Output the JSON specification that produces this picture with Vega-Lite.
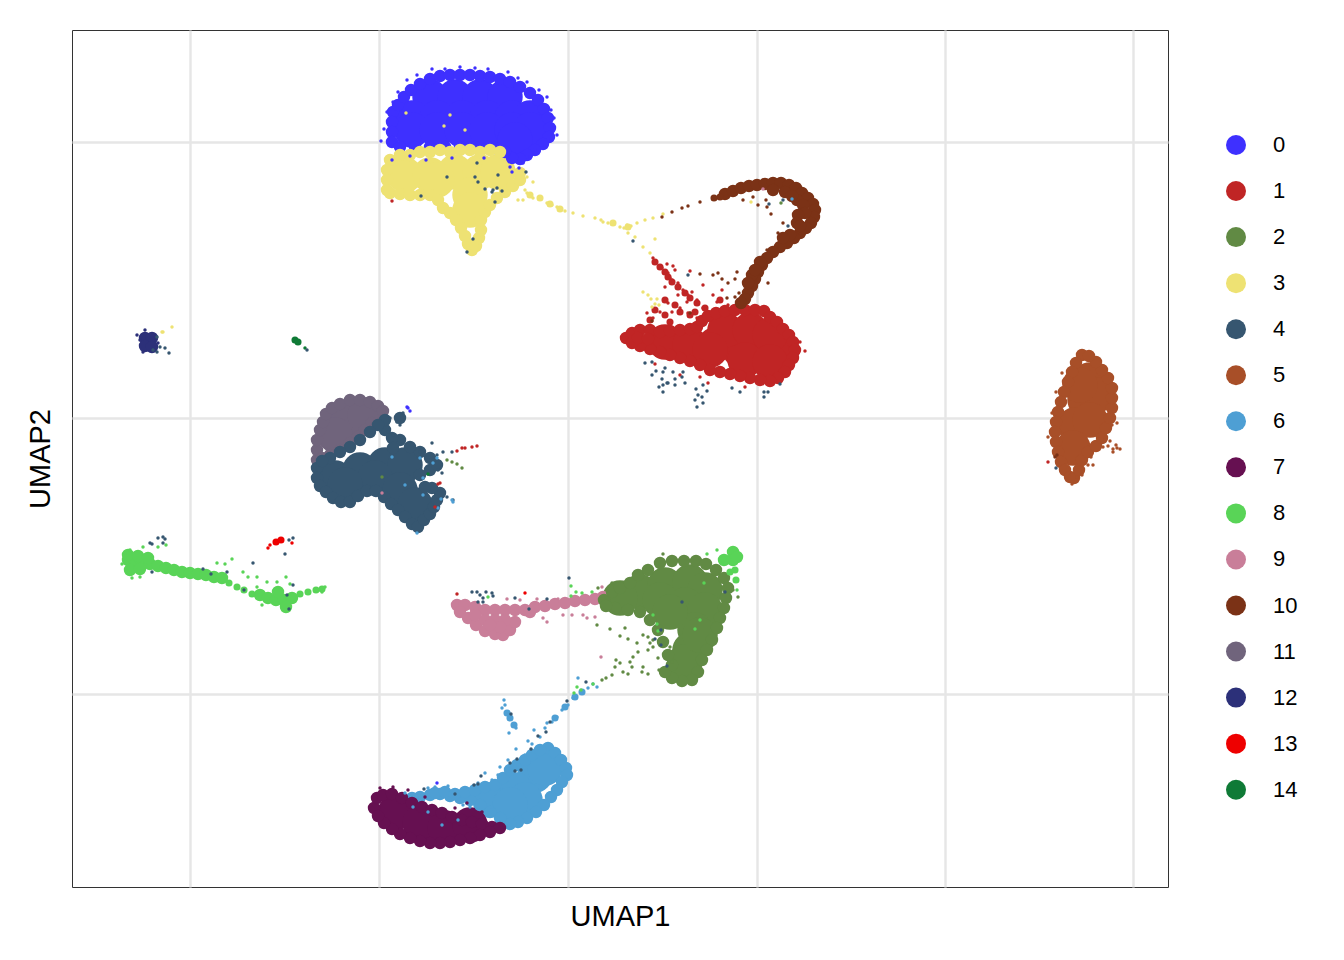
{"$schema":"https://vega.github.io/schema/vega-lite/v6.json","width":1096,"height":857,"autosize":{"type":"none"},"padding":{"left":72,"top":30,"right":176,"bottom":73},"background":"white","config":{"view":{"stroke":"#333333","strokeWidth":1},"font":"Liberation Sans"},
"datasets":{
"big":[
{"c":"0","x":-138,"y":321},{"c":"0","x":-113,"y":321},{"c":"0","x":-88,"y":321},{"c":"0","x":-63,"y":321},{"c":"0","x":-156,"y":300},{"c":"0","x":-131,"y":300},{"c":"0","x":-106,"y":300},{"c":"0","x":-81,"y":300},{"c":"0","x":-56,"y":300},{"c":"0","x":-38,"y":300},{"c":"0","x":-156,"y":288},{"c":"0","x":-131,"y":288},{"c":"0","x":-106,"y":288},{"c":"0","x":-81,"y":288},{"c":"0","x":-56,"y":288},{"c":"0","x":-38,"y":288},{"c":"0","x":-53,"y":278},
{"c":"3","x":-163,"y":243},{"c":"3","x":-138,"y":243},{"c":"3","x":-113,"y":246},{"c":"3","x":-88,"y":246},{"c":"3","x":-70,"y":246},{"c":"3","x":-98,"y":223},{"c":"3","x":-131,"y":238},{"c":"3","x":-98,"y":208},
{"c":"1","x":97,"y":76},{"c":"1","x":122,"y":73},{"c":"1","x":147,"y":73},{"c":"1","x":172,"y":68},{"c":"1","x":197,"y":68},{"c":"1","x":214,"y":68},{"c":"1","x":157,"y":88},{"c":"1","x":182,"y":88},{"c":"1","x":202,"y":83},{"c":"1","x":177,"y":58},{"c":"1","x":202,"y":56},{"c":"1","x":142,"y":68},
{"c":"11","x":-223,"y":-2},{"c":"11","x":-233,"y":-17},{"c":"11","x":-203,"y":3},
{"c":"4","x":-233,"y":-60},{"c":"4","x":-208,"y":-52},{"c":"4","x":-183,"y":-47},{"c":"4","x":-163,"y":-47},{"c":"4","x":-193,"y":-60},{"c":"4","x":-223,"y":-67},{"c":"4","x":-168,"y":-72},{"c":"4","x":-153,"y":-87},
{"c":"2","x":72,"y":-174},{"c":"2","x":97,"y":-167},{"c":"2","x":122,"y":-164},{"c":"2","x":137,"y":-172},{"c":"2","x":92,"y":-182},{"c":"2","x":117,"y":-187},{"c":"2","x":137,"y":-192},{"c":"2","x":127,"y":-212},{"c":"2","x":122,"y":-232},{"c":"2","x":117,"y":-244},{"c":"2","x":132,"y":-217},{"c":"2","x":102,"y":-194},{"c":"2","x":52,"y":-180},
{"c":"6","x":-33,"y":-357},{"c":"6","x":-53,"y":-372},{"c":"6","x":-43,"y":-382},{"c":"6","x":-23,"y":-350},{"c":"6","x":-78,"y":-382},{"c":"6","x":-58,"y":-387},
{"c":"7","x":-173,"y":-395},{"c":"7","x":-148,"y":-405},{"c":"7","x":-123,"y":-410},{"c":"7","x":-98,"y":-407},
{"c":"5","x":522,"y":38},{"c":"5","x":517,"y":18},{"c":"5","x":529,"y":23},{"c":"5","x":507,"y":-7},{"c":"5","x":522,"y":-2},{"c":"5","x":505,"y":-30},{"c":"5","x":512,"y":33}],
"mid":[
{"c":"0","x":-175,"y":306},{"c":"0","x":-170,"y":313},{"c":"0","x":-164,"y":321},{"c":"0","x":-157,"y":328},{"c":"0","x":-148,"y":334},{"c":"0","x":-138,"y":339},{"c":"0","x":-128,"y":342},{"c":"0","x":-118,"y":343},{"c":"0","x":-108,"y":343},{"c":"0","x":-98,"y":343},{"c":"0","x":-88,"y":342},{"c":"0","x":-78,"y":341},{"c":"0","x":-68,"y":339},{"c":"0","x":-58,"y":336},{"c":"0","x":-48,"y":331},{"c":"0","x":-38,"y":325},{"c":"0","x":-30,"y":318},{"c":"0","x":-24,"y":309},{"c":"0","x":-20,"y":300},{"c":"0","x":-18,"y":290},{"c":"0","x":-19,"y":281},{"c":"0","x":-25,"y":274},{"c":"0","x":-33,"y":268},{"c":"0","x":-41,"y":263},{"c":"0","x":-48,"y":259},{"c":"0","x":-56,"y":260},{"c":"0","x":-63,"y":266},{"c":"0","x":-73,"y":270},{"c":"0","x":-176,"y":296},{"c":"0","x":-176,"y":286},{"c":"0","x":-176,"y":276},{"c":"0","x":-168,"y":271},{"c":"0","x":-153,"y":271},{"c":"0","x":-138,"y":271},{"c":"0","x":-123,"y":271},{"c":"0","x":-108,"y":271},{"c":"0","x":-93,"y":271},{"c":"0","x":-80,"y":271},
{"c":"3","x":-178,"y":258},{"c":"3","x":-181,"y":248},{"c":"3","x":-181,"y":238},{"c":"3","x":-181,"y":228},{"c":"3","x":-178,"y":225},{"c":"3","x":-168,"y":224},{"c":"3","x":-158,"y":223},{"c":"3","x":-148,"y":223},{"c":"3","x":-138,"y":223},{"c":"3","x":-130,"y":218},{"c":"3","x":-125,"y":210},{"c":"3","x":-118,"y":205},{"c":"3","x":-112,"y":198},{"c":"3","x":-107,"y":190},{"c":"3","x":-103,"y":182},{"c":"3","x":-100,"y":174},{"c":"3","x":-96,"y":168},{"c":"3","x":-92,"y":172},{"c":"3","x":-89,"y":180},{"c":"3","x":-87,"y":188},{"c":"3","x":-87,"y":198},{"c":"3","x":-83,"y":206},{"c":"3","x":-78,"y":213},{"c":"3","x":-71,"y":220},{"c":"3","x":-63,"y":226},{"c":"3","x":-55,"y":232},{"c":"3","x":-48,"y":238},{"c":"3","x":-48,"y":245},{"c":"3","x":-168,"y":263},{"c":"3","x":-158,"y":263},{"c":"3","x":-148,"y":266},{"c":"3","x":-138,"y":266},{"c":"3","x":-128,"y":268},{"c":"3","x":-118,"y":266},{"c":"3","x":-108,"y":268},{"c":"3","x":-98,"y":268},{"c":"3","x":-88,"y":266},{"c":"3","x":-78,"y":268},{"c":"3","x":-68,"y":266},
{"c":"1","x":58,"y":80},{"c":"1","x":64,"y":85},{"c":"1","x":72,"y":88},{"c":"1","x":82,"y":88},{"c":"1","x":92,"y":86},{"c":"1","x":102,"y":87},{"c":"1","x":112,"y":88},{"c":"1","x":122,"y":89},{"c":"1","x":129,"y":91},{"c":"1","x":134,"y":97},{"c":"1","x":140,"y":102},{"c":"1","x":148,"y":105},{"c":"1","x":157,"y":107},{"c":"1","x":167,"y":108},{"c":"1","x":177,"y":108},{"c":"1","x":187,"y":108},{"c":"1","x":196,"y":107},{"c":"1","x":202,"y":101},{"c":"1","x":209,"y":96},{"c":"1","x":215,"y":89},{"c":"1","x":221,"y":83},{"c":"1","x":225,"y":76},{"c":"1","x":227,"y":68},{"c":"1","x":225,"y":60},{"c":"1","x":221,"y":53},{"c":"1","x":217,"y":46},{"c":"1","x":210,"y":40},{"c":"1","x":202,"y":37},{"c":"1","x":192,"y":38},{"c":"1","x":182,"y":40},{"c":"1","x":172,"y":42},{"c":"1","x":162,"y":44},{"c":"1","x":152,"y":46},{"c":"1","x":142,"y":48},{"c":"1","x":132,"y":53},{"c":"1","x":122,"y":57},{"c":"1","x":112,"y":60},{"c":"1","x":102,"y":63},{"c":"1","x":92,"y":66},{"c":"1","x":82,"y":69},{"c":"1","x":72,"y":72},{"c":"1","x":64,"y":75},{"c":"1","x":70,"y":80},{"c":"1","x":80,"y":79},
{"c":"10","x":157,"y":224},{"c":"10","x":165,"y":227},{"c":"10","x":173,"y":230},{"c":"10","x":181,"y":232},{"c":"10","x":189,"y":233},{"c":"10","x":197,"y":234},{"c":"10","x":205,"y":235},{"c":"10","x":213,"y":235},{"c":"10","x":221,"y":233},{"c":"10","x":228,"y":230},{"c":"10","x":234,"y":225},{"c":"10","x":240,"y":220},{"c":"10","x":245,"y":214},{"c":"10","x":247,"y":208},{"c":"10","x":246,"y":201},{"c":"10","x":243,"y":195},{"c":"10","x":238,"y":190},{"c":"10","x":232,"y":185},{"c":"10","x":226,"y":180},{"c":"10","x":219,"y":175},{"c":"10","x":212,"y":171},{"c":"10","x":205,"y":166},{"c":"10","x":199,"y":160},{"c":"10","x":194,"y":153},{"c":"10","x":190,"y":146},{"c":"10","x":187,"y":139},{"c":"10","x":184,"y":132},{"c":"10","x":180,"y":125},{"c":"10","x":177,"y":119},{"c":"10","x":173,"y":115},{"c":"10","x":229,"y":218},{"c":"10","x":235,"y":213},{"c":"10","x":237,"y":205},{"c":"10","x":230,"y":203},{"c":"10","x":229,"y":195},{"c":"10","x":232,"y":192},{"c":"10","x":222,"y":183},{"c":"10","x":215,"y":180},{"c":"10","x":192,"y":156},{"c":"10","x":184,"y":143},{"c":"10","x":180,"y":135},{"c":"10","x":187,"y":148},{"c":"10","x":205,"y":228},{"c":"10","x":217,"y":226},{"c":"10","x":224,"y":222},
{"c":"11","x":-251,"y":-42},{"c":"11","x":-251,"y":-32},{"c":"11","x":-251,"y":-22},{"c":"11","x":-248,"y":-12},{"c":"11","x":-245,"y":-4},{"c":"11","x":-242,"y":4},{"c":"11","x":-236,"y":10},{"c":"11","x":-228,"y":14},{"c":"11","x":-218,"y":18},{"c":"11","x":-208,"y":18},{"c":"11","x":-198,"y":16},{"c":"11","x":-190,"y":12},{"c":"11","x":-185,"y":7},{"c":"11","x":-196,"y":-5},{"c":"11","x":-203,"y":-12},{"c":"11","x":-210,"y":-19},{"c":"11","x":-218,"y":-25},{"c":"11","x":-228,"y":-32},{"c":"11","x":-238,"y":-37},{"c":"11","x":-246,"y":-40},
{"c":"4","x":-251,"y":-50},{"c":"4","x":-251,"y":-60},{"c":"4","x":-248,"y":-68},{"c":"4","x":-242,"y":-74},{"c":"4","x":-235,"y":-80},{"c":"4","x":-227,"y":-84},{"c":"4","x":-218,"y":-84},{"c":"4","x":-210,"y":-78},{"c":"4","x":-201,"y":-73},{"c":"4","x":-192,"y":-73},{"c":"4","x":-184,"y":-79},{"c":"4","x":-177,"y":-86},{"c":"4","x":-170,"y":-92},{"c":"4","x":-163,"y":-99},{"c":"4","x":-156,"y":-106},{"c":"4","x":-150,"y":-109},{"c":"4","x":-144,"y":-102},{"c":"4","x":-138,"y":-96},{"c":"4","x":-134,"y":-89},{"c":"4","x":-131,"y":-82},{"c":"4","x":-128,"y":-75},{"c":"4","x":-136,"y":-70},{"c":"4","x":-143,"y":-69},{"c":"4","x":-148,"y":-57},{"c":"4","x":-138,"y":-52},{"c":"4","x":-131,"y":-47},{"c":"4","x":-138,"y":-40},{"c":"4","x":-148,"y":-34},{"c":"4","x":-158,"y":-29},{"c":"4","x":-168,"y":-22},{"c":"4","x":-176,"y":-20},{"c":"4","x":-183,"y":-12},{"c":"4","x":-183,"y":-2},{"c":"4","x":-190,"y":-7},{"c":"4","x":-198,"y":-14},{"c":"4","x":-208,"y":-22},{"c":"4","x":-218,"y":-29},{"c":"4","x":-228,"y":-34},{"c":"4","x":-238,"y":-40},{"c":"4","x":-246,"y":-43},{"c":"4","x":-168,"y":0},{"c":"4","x":-175,"y":-30},
{"c":"12","x":-423,"y":80},{"c":"12","x":-416,"y":80},{"c":"12","x":-423,"y":72},{"c":"12","x":-416,"y":71},
{"c":"8","x":-440,"y":-142},{"c":"8","x":-433,"y":-144},{"c":"8","x":-426,"y":-145},{"c":"8","x":-418,"y":-146},{"c":"8","x":-410,"y":-148},{"c":"8","x":-402,"y":-150},{"c":"8","x":-394,"y":-152},{"c":"8","x":-386,"y":-154},{"c":"8","x":-378,"y":-155},{"c":"8","x":-370,"y":-156},{"c":"8","x":-362,"y":-157},{"c":"8","x":-354,"y":-159},{"c":"8","x":-346,"y":-160},{"c":"8","x":-440,"y":-137},{"c":"8","x":-430,"y":-138},{"c":"8","x":-420,"y":-140},{"c":"8","x":-438,"y":-152},{"c":"8","x":-428,"y":-151},{"c":"8","x":-308,"y":-177},{"c":"8","x":-300,"y":-180},{"c":"8","x":-292,"y":-182},{"c":"8","x":-284,"y":-182},{"c":"8","x":-276,"y":-180},{"c":"8","x":-282,"y":-189},{"c":"8","x":-290,"y":-174},{"c":"8","x":165,"y":-134},{"c":"8","x":165,"y":-142},{"c":"8","x":156,"y":-142},{"c":"8","x":169,"y":-139},
{"c":"9","x":-111,"y":-187},{"c":"9","x":-103,"y":-187},{"c":"9","x":-93,"y":-189},{"c":"9","x":-83,"y":-192},{"c":"9","x":-73,"y":-192},{"c":"9","x":-63,"y":-192},{"c":"9","x":-53,"y":-192},{"c":"9","x":-43,"y":-192},{"c":"9","x":-33,"y":-189},{"c":"9","x":-23,"y":-188},{"c":"9","x":-13,"y":-186},{"c":"9","x":-3,"y":-185},{"c":"9","x":7,"y":-183},{"c":"9","x":17,"y":-182},{"c":"9","x":27,"y":-181},{"c":"9","x":35,"y":-179},{"c":"9","x":-108,"y":-194},{"c":"9","x":-100,"y":-200},{"c":"9","x":-92,"y":-207},{"c":"9","x":-83,"y":-213},{"c":"9","x":-73,"y":-216},{"c":"9","x":-65,"y":-217},{"c":"9","x":-58,"y":-212},{"c":"9","x":-53,"y":-204},{"c":"9","x":-63,"y":-202},{"c":"9","x":-73,"y":-202},{"c":"9","x":-83,"y":-202},{"c":"9","x":-93,"y":-197},{"c":"9","x":-38,"y":-194},{"c":"9","x":-68,"y":-209},{"c":"9","x":-78,"y":-207},
{"c":"2","x":36,"y":-182},{"c":"2","x":44,"y":-174},{"c":"2","x":52,"y":-170},{"c":"2","x":62,"y":-165},{"c":"2","x":70,"y":-157},{"c":"2","x":80,"y":-152},{"c":"2","x":92,"y":-145},{"c":"2","x":104,"y":-143},{"c":"2","x":116,"y":-143},{"c":"2","x":128,"y":-143},{"c":"2","x":138,"y":-146},{"c":"2","x":148,"y":-152},{"c":"2","x":156,"y":-160},{"c":"2","x":160,"y":-170},{"c":"2","x":158,"y":-180},{"c":"2","x":156,"y":-190},{"c":"2","x":152,"y":-200},{"c":"2","x":149,"y":-210},{"c":"2","x":144,"y":-222},{"c":"2","x":139,"y":-232},{"c":"2","x":134,"y":-242},{"c":"2","x":130,"y":-254},{"c":"2","x":124,"y":-262},{"c":"2","x":114,"y":-263},{"c":"2","x":104,"y":-260},{"c":"2","x":97,"y":-254},{"c":"2","x":104,"y":-247},{"c":"2","x":100,"y":-237},{"c":"2","x":95,"y":-224},{"c":"2","x":90,"y":-212},{"c":"2","x":82,"y":-202},{"c":"2","x":72,"y":-194},{"c":"2","x":60,"y":-192},{"c":"2","x":47,"y":-190},{"c":"2","x":38,"y":-188},
{"c":"6","x":-20,"y":-330},{"c":"6","x":-13,"y":-335},{"c":"6","x":-7,"y":-342},{"c":"6","x":-2,"y":-350},{"c":"6","x":-1,"y":-357},{"c":"6","x":-6,"y":-364},{"c":"6","x":-11,"y":-372},{"c":"6","x":-17,"y":-379},{"c":"6","x":-24,"y":-387},{"c":"6","x":-32,"y":-394},{"c":"6","x":-41,"y":-400},{"c":"6","x":-50,"y":-404},{"c":"6","x":-58,"y":-406},{"c":"6","x":-68,"y":-400},{"c":"6","x":-78,"y":-394},{"c":"6","x":-88,"y":-387},{"c":"6","x":-98,"y":-382},{"c":"6","x":-108,"y":-380},{"c":"6","x":-118,"y":-378},{"c":"6","x":-128,"y":-376},{"c":"6","x":-138,"y":-377},{"c":"6","x":-148,"y":-379},{"c":"6","x":-156,"y":-380},{"c":"6","x":-133,"y":-375},{"c":"6","x":-123,"y":-374},{"c":"6","x":-113,"y":-376},{"c":"6","x":-103,"y":-374},{"c":"6","x":-93,"y":-372},{"c":"6","x":-83,"y":-369},{"c":"6","x":-73,"y":-367},{"c":"6","x":-65,"y":-360},{"c":"6","x":-58,"y":-352},{"c":"6","x":-51,"y":-347},{"c":"6","x":-43,"y":-342},{"c":"6","x":-36,"y":-337},{"c":"6","x":-28,"y":-332},
{"c":"7","x":-194,"y":-390},{"c":"7","x":-191,"y":-380},{"c":"7","x":-185,"y":-377},{"c":"7","x":-176,"y":-376},{"c":"7","x":-166,"y":-380},{"c":"7","x":-156,"y":-385},{"c":"7","x":-146,"y":-389},{"c":"7","x":-136,"y":-392},{"c":"7","x":-126,"y":-395},{"c":"7","x":-116,"y":-399},{"c":"7","x":-106,"y":-402},{"c":"7","x":-96,"y":-404},{"c":"7","x":-86,"y":-406},{"c":"7","x":-76,"y":-409},{"c":"7","x":-68,"y":-410},{"c":"7","x":-78,"y":-414},{"c":"7","x":-88,"y":-417},{"c":"7","x":-98,"y":-420},{"c":"7","x":-108,"y":-422},{"c":"7","x":-118,"y":-424},{"c":"7","x":-128,"y":-425},{"c":"7","x":-138,"y":-425},{"c":"7","x":-148,"y":-423},{"c":"7","x":-158,"y":-420},{"c":"7","x":-168,"y":-416},{"c":"7","x":-176,"y":-411},{"c":"7","x":-184,"y":-405},{"c":"7","x":-190,"y":-398},
{"c":"5","x":514,"y":63},{"c":"5","x":508,"y":55},{"c":"5","x":504,"y":46},{"c":"5","x":500,"y":36},{"c":"5","x":496,"y":26},{"c":"5","x":493,"y":16},{"c":"5","x":490,"y":6},{"c":"5","x":488,"y":-4},{"c":"5","x":487,"y":-14},{"c":"5","x":488,"y":-24},{"c":"5","x":490,"y":-34},{"c":"5","x":493,"y":-44},{"c":"5","x":497,"y":-52},{"c":"5","x":502,"y":-59},{"c":"5","x":506,"y":-60},{"c":"5","x":511,"y":-52},{"c":"5","x":514,"y":-42},{"c":"5","x":520,"y":-34},{"c":"5","x":528,"y":-28},{"c":"5","x":534,"y":-20},{"c":"5","x":538,"y":-10},{"c":"5","x":542,"y":0},{"c":"5","x":544,"y":10},{"c":"5","x":544,"y":20},{"c":"5","x":544,"y":30},{"c":"5","x":540,"y":40},{"c":"5","x":534,"y":48},{"c":"5","x":528,"y":56},{"c":"5","x":521,"y":62}],
"small":[
{"c":"1","x":87,"y":156},{"c":"1","x":92,"y":151},{"c":"1","x":97,"y":146},{"c":"1","x":100,"y":141},{"c":"1","x":104,"y":136},{"c":"1","x":110,"y":131},{"c":"1","x":117,"y":125},{"c":"1","x":122,"y":120},{"c":"1","x":129,"y":115},{"c":"1","x":152,"y":118},{"c":"1","x":122,"y":103},{"c":"1","x":112,"y":106},{"c":"1","x":97,"y":103},{"c":"1","x":82,"y":98},{"c":"1","x":97,"y":118},{"c":"1","x":137,"y":110},{"c":"1","x":107,"y":113},{"c":"1","x":102,"y":96},{"c":"1","x":87,"y":108},{"c":"1","x":127,"y":106},
{"c":"3","x":-38,"y":223},{"c":"3","x":-28,"y":220},{"c":"3","x":-18,"y":214},{"c":"3","x":-8,"y":209},{"c":"3","x":45,"y":195},{"c":"3","x":60,"y":191},
{"c":"10","x":152,"y":221},{"c":"10","x":146,"y":220},
{"c":"8","x":-339,"y":-165},{"c":"8","x":-331,"y":-169},{"c":"8","x":-324,"y":-172},{"c":"8","x":-316,"y":-176},{"c":"8","x":-268,"y":-176},{"c":"8","x":-260,"y":-174},{"c":"8","x":-252,"y":-172},{"c":"8","x":-246,"y":-171},{"c":"8","x":162,"y":-154},{"c":"8","x":168,"y":-162},{"c":"8","x":167,"y":-152},
{"c":"14","x":-273,"y":78},{"c":"14","x":-270,"y":76},
{"c":"13","x":-287,"y":-122},{"c":"13","x":-292,"y":-124},
{"c":"6","x":-61,"y":-295},{"c":"6","x":-58,"y":-300},{"c":"6","x":-54,"y":-307},{"c":"6","x":7,"y":-279},{"c":"6","x":-3,"y":-289},{"c":"6","x":14,"y":-274},{"c":"6","x":-13,"y":-300}],
"dots":[
{"c":"0","x":-187,"y":277},{"c":"0","x":-184,"y":289},{"c":"0","x":-181,"y":306},{"c":"0","x":-175,"y":316},{"c":"0","x":-170,"y":326},{"c":"0","x":-161,"y":338},{"c":"0","x":-151,"y":343},{"c":"0","x":-136,"y":349},{"c":"0","x":-123,"y":349},{"c":"0","x":-108,"y":351},{"c":"0","x":-93,"y":350},{"c":"0","x":-80,"y":349},{"c":"0","x":-60,"y":346},{"c":"0","x":-50,"y":340},{"c":"0","x":-41,"y":336},{"c":"0","x":-29,"y":328},{"c":"0","x":-21,"y":321},{"c":"0","x":-17,"y":308},{"c":"0","x":-14,"y":300},{"c":"0","x":-11,"y":283},{"c":"0","x":-20,"y":278},{"c":"0","x":-26,"y":273},{"c":"0","x":-33,"y":268},{"c":"0","x":-41,"y":261},{"c":"0","x":-45,"y":255},{"c":"0","x":-49,"y":250},{"c":"0","x":-56,"y":246},{"c":"0","x":-58,"y":251},{"c":"0","x":-176,"y":258},{"c":"0","x":-142,"y":258},{"c":"0","x":-116,"y":260},{"c":"0","x":-84,"y":260},{"c":"0","x":-158,"y":262},
{"c":"3","x":-162,"y":305},{"c":"3","x":-118,"y":303},{"c":"3","x":-124,"y":292},{"c":"3","x":-103,"y":288},{"c":"3","x":-41,"y":241},{"c":"3","x":-35,"y":236},{"c":"3","x":-43,"y":228},{"c":"3","x":-45,"y":218},{"c":"3","x":-50,"y":218},{"c":"3","x":-41,"y":225},{"c":"3","x":-35,"y":220},{"c":"3","x":-21,"y":215},{"c":"3","x":-16,"y":213},{"c":"3","x":-11,"y":211},{"c":"3","x":-3,"y":207},{"c":"3","x":5,"y":205},{"c":"3","x":15,"y":202},{"c":"3","x":27,"y":200},{"c":"3","x":33,"y":198},{"c":"3","x":35,"y":196},{"c":"3","x":40,"y":195},{"c":"3","x":52,"y":191},{"c":"3","x":56,"y":190},{"c":"3","x":59,"y":193},{"c":"3","x":63,"y":192},{"c":"3","x":69,"y":195},{"c":"3","x":77,"y":198},{"c":"3","x":85,"y":200},{"c":"3","x":95,"y":204},{"c":"3","x":60,"y":185},{"c":"3","x":67,"y":181},{"c":"3","x":75,"y":171},{"c":"3","x":87,"y":179},{"c":"3","x":82,"y":165},{"c":"3","x":-406,"y":86},{"c":"3","x":-405,"y":86},{"c":"3","x":-396,"y":91},
{"c":"4","x":-121,"y":241},{"c":"4","x":-93,"y":241},{"c":"4","x":-90,"y":236},{"c":"4","x":-70,"y":243},{"c":"4","x":-75,"y":228},{"c":"4","x":-76,"y":226},{"c":"4","x":-71,"y":230},{"c":"4","x":-83,"y":229},{"c":"4","x":-66,"y":227},{"c":"4","x":-147,"y":222},{"c":"4","x":-73,"y":216},{"c":"4","x":-42,"y":246},{"c":"4","x":-91,"y":255},{"c":"4","x":-95,"y":179},{"c":"4","x":-101,"y":166},{"c":"4","x":65,"y":177},
{"c":"1","x":-176,"y":217},
{"c":"1","x":85,"y":160},{"c":"1","x":94,"y":150},{"c":"1","x":100,"y":145},{"c":"1","x":104,"y":138},{"c":"1","x":110,"y":135},{"c":"1","x":115,"y":128},{"c":"1","x":120,"y":123},{"c":"1","x":129,"y":118},{"c":"1","x":135,"y":133},{"c":"1","x":145,"y":123},{"c":"1","x":154,"y":128},{"c":"1","x":149,"y":116},{"c":"1","x":160,"y":113},{"c":"1","x":122,"y":147},{"c":"1","x":107,"y":148},{"c":"1","x":99,"y":154},{"c":"1","x":105,"y":152},{"c":"1","x":110,"y":123},{"c":"1","x":119,"y":116},{"c":"1","x":112,"y":110},{"c":"1","x":104,"y":106},{"c":"1","x":97,"y":118},{"c":"1","x":100,"y":115},{"c":"1","x":92,"y":106},{"c":"1","x":79,"y":105},{"c":"1","x":85,"y":100},{"c":"1","x":129,"y":100},{"c":"1","x":120,"y":105},{"c":"1","x":135,"y":110},{"c":"1","x":102,"y":140},{"c":"1","x":105,"y":136},{"c":"1","x":97,"y":131},{"c":"1","x":117,"y":126},{"c":"1","x":124,"y":126},{"c":"1","x":237,"y":67},{"c":"1","x":232,"y":76},{"c":"1","x":177,"y":31},{"c":"1","x":140,"y":35},{"c":"1","x":132,"y":41},{"c":"1","x":112,"y":43},{"c":"1","x":87,"y":54},{"c":"1","x":-111,"y":-176},
{"c":"4","x":77,"y":55},{"c":"4","x":84,"y":56},{"c":"4","x":88,"y":47},{"c":"4","x":84,"y":43},{"c":"4","x":97,"y":50},{"c":"4","x":95,"y":46},{"c":"4","x":105,"y":46},{"c":"4","x":94,"y":39},{"c":"4","x":99,"y":35},{"c":"4","x":95,"y":33},{"c":"4","x":91,"y":31},{"c":"4","x":95,"y":26},{"c":"4","x":100,"y":35},{"c":"4","x":107,"y":39},{"c":"4","x":107,"y":33},{"c":"4","x":117,"y":35},{"c":"4","x":115,"y":46},{"c":"4","x":114,"y":41},{"c":"4","x":128,"y":29},{"c":"4","x":130,"y":23},{"c":"4","x":127,"y":18},{"c":"4","x":135,"y":15},{"c":"4","x":129,"y":11},{"c":"4","x":134,"y":21},{"c":"4","x":139,"y":27},{"c":"4","x":135,"y":33},{"c":"4","x":164,"y":30},{"c":"4","x":172,"y":26},{"c":"4","x":196,"y":26},{"c":"4","x":196,"y":21},{"c":"4","x":200,"y":26},{"c":"4","x":212,"y":34},{"c":"4","x":120,"y":143},
{"c":"10","x":94,"y":201},{"c":"10","x":104,"y":206},{"c":"10","x":114,"y":210},{"c":"10","x":120,"y":212},{"c":"10","x":132,"y":216},{"c":"10","x":175,"y":218},{"c":"10","x":185,"y":221},{"c":"10","x":190,"y":213},{"c":"10","x":198,"y":218},{"c":"10","x":199,"y":211},{"c":"10","x":203,"y":204},{"c":"10","x":215,"y":195},{"c":"10","x":210,"y":185},{"c":"10","x":199,"y":168},{"c":"10","x":132,"y":144},{"c":"10","x":150,"y":145},{"c":"10","x":145,"y":143},{"c":"10","x":154,"y":139},{"c":"10","x":169,"y":146},{"c":"10","x":160,"y":135},{"c":"10","x":167,"y":139},{"c":"10","x":171,"y":125},{"c":"10","x":159,"y":120},{"c":"10","x":167,"y":121},{"c":"10","x":200,"y":135},{"c":"10","x":122,"y":105},{"c":"10","x":84,"y":97},
{"c":"3","x":75,"y":126},{"c":"3","x":80,"y":123},{"c":"3","x":83,"y":119},{"c":"3","x":89,"y":119},{"c":"3","x":84,"y":111},{"c":"3","x":87,"y":114},{"c":"3","x":91,"y":113},{"c":"3","x":183,"y":216},
{"c":"6","x":224,"y":219},{"c":"4","x":201,"y":214},{"c":"4","x":215,"y":218},{"c":"4","x":220,"y":192},{"c":"2","x":213,"y":215},{"c":"9","x":195,"y":229},
{"c":"4","x":-165,"y":5},{"c":"4","x":-171,"y":-4},{"c":"4","x":-178,"y":0},{"c":"4","x":-168,"y":-7},{"c":"4","x":-180,"y":-14},{"c":"4","x":-175,"y":-17},{"c":"4","x":-136,"y":-25},{"c":"4","x":-148,"y":-34},{"c":"4","x":-131,"y":-37},{"c":"4","x":-125,"y":-34},{"c":"4","x":-116,"y":-34},{"c":"4","x":-140,"y":-42},{"c":"4","x":-130,"y":-52},{"c":"4","x":-126,"y":-55},{"c":"4","x":-121,"y":-79},{"c":"4","x":-115,"y":-82},
{"c":"6","x":-151,"y":-115},{"c":"6","x":-135,"y":-45},{"c":"6","x":-131,"y":-40},{"c":"6","x":-116,"y":-82},{"c":"6","x":-130,"y":-90},{"c":"6","x":-145,"y":-77},{"c":"6","x":-145,"y":-60},{"c":"6","x":-163,"y":-67},{"c":"6","x":-176,"y":-39},{"c":"6","x":-148,"y":-40},{"c":"6","x":-127,"y":-81},{"c":"6","x":-115,"y":-84},
{"c":"1","x":-111,"y":-33},{"c":"1","x":-106,"y":-30},{"c":"1","x":-103,"y":-30},{"c":"1","x":-96,"y":-29},{"c":"1","x":-91,"y":-28},{"c":"1","x":-128,"y":-65},{"c":"1","x":-130,"y":-66},{"c":"1","x":-133,"y":-89},
{"c":"2","x":-121,"y":-42},{"c":"2","x":-116,"y":-44},{"c":"2","x":-111,"y":-46},{"c":"2","x":-106,"y":-50},{"c":"2","x":-186,"y":-59},{"c":"14","x":-140,"y":-56},{"c":"9","x":-186,"y":-75},
{"c":"0","x":-160,"y":10},{"c":"0","x":-158,"y":7},{"c":"0","x":-161,"y":11},
{"c":"12","x":-423,"y":88},{"c":"12","x":-431,"y":83},{"c":"12","x":-428,"y":78},{"c":"12","x":-425,"y":66},{"c":"12","x":-410,"y":75},{"c":"12","x":-412,"y":80},{"c":"4","x":-411,"y":81},{"c":"4","x":-408,"y":71},{"c":"4","x":-403,"y":70},{"c":"4","x":-399,"y":65},{"c":"4","x":-415,"y":68},{"c":"4","x":-411,"y":66},
{"c":"14","x":-263,"y":70},{"c":"4","x":-261,"y":68},
{"c":"13","x":-298,"y":-127},{"c":"13","x":-300,"y":-130},{"c":"13","x":-276,"y":-125},{"c":"4","x":-279,"y":-122},{"c":"4","x":-275,"y":-120},{"c":"4","x":-283,"y":-136},{"c":"4","x":-315,"y":-145},
{"c":"8","x":-336,"y":-141},{"c":"8","x":-343,"y":-146},{"c":"8","x":-351,"y":-145},{"c":"8","x":-325,"y":-154},{"c":"8","x":-320,"y":-159},{"c":"8","x":-311,"y":-159},{"c":"8","x":-301,"y":-164},{"c":"8","x":-291,"y":-164},{"c":"8","x":-282,"y":-159},{"c":"8","x":-311,"y":-169},{"c":"8","x":-306,"y":-187},{"c":"8","x":-278,"y":-166},{"c":"8","x":-243,"y":-169},{"c":"8","x":-246,"y":-174},{"c":"8","x":-436,"y":-160},{"c":"8","x":-428,"y":-159},{"c":"8","x":-446,"y":-146},{"c":"8","x":-410,"y":-129},{"c":"8","x":-402,"y":-127},{"c":"8","x":-425,"y":-129},{"c":"8","x":-438,"y":-132},{"c":"8","x":-443,"y":-135},
{"c":"4","x":-418,"y":-125},{"c":"4","x":-416,"y":-126},{"c":"4","x":-410,"y":-120},{"c":"4","x":-405,"y":-119},{"c":"4","x":-403,"y":-121},{"c":"4","x":-405,"y":-125},{"c":"4","x":-357,"y":-156},{"c":"4","x":-324,"y":-172},{"c":"4","x":-365,"y":-151},{"c":"4","x":-416,"y":-154},{"c":"4","x":-341,"y":-154},{"c":"4","x":-281,"y":-177},{"c":"4","x":-279,"y":-191},{"c":"4","x":-275,"y":-167},
{"c":"8","x":139,"y":-136},{"c":"8","x":149,"y":-132},{"c":"8","x":169,"y":-162},{"c":"8","x":169,"y":-172},{"c":"8","x":162,"y":-155},{"c":"8","x":136,"y":-165},{"c":"8","x":132,"y":-202},{"c":"8","x":85,"y":-197},{"c":"8","x":89,"y":-206},{"c":"8","x":90,"y":-213},{"c":"8","x":127,"y":-211},{"c":"8","x":3,"y":-168},{"c":"8","x":8,"y":-174},{"c":"8","x":14,"y":-175},{"c":"8","x":24,"y":-174},{"c":"8","x":3,"y":-178},{"c":"8","x":-80,"y":-179},
{"c":"2","x":29,"y":-207},{"c":"2","x":42,"y":-211},{"c":"2","x":52,"y":-218},{"c":"2","x":60,"y":-221},{"c":"2","x":57,"y":-210},{"c":"2","x":69,"y":-225},{"c":"2","x":70,"y":-234},{"c":"2","x":65,"y":-239},{"c":"2","x":82,"y":-225},{"c":"2","x":80,"y":-232},{"c":"2","x":90,"y":-240},{"c":"2","x":75,"y":-217},{"c":"2","x":85,"y":-222},{"c":"2","x":48,"y":-242},{"c":"2","x":52,"y":-245},{"c":"2","x":62,"y":-244},{"c":"2","x":64,"y":-249},{"c":"2","x":47,"y":-249},{"c":"2","x":55,"y":-254},{"c":"2","x":60,"y":-256},{"c":"2","x":75,"y":-249},{"c":"2","x":74,"y":-254},{"c":"2","x":80,"y":-256},{"c":"2","x":91,"y":-252},{"c":"2","x":104,"y":-244},{"c":"2","x":44,"y":-257},{"c":"2","x":38,"y":-260},{"c":"2","x":34,"y":-262},{"c":"2","x":80,"y":-219},{"c":"2","x":97,"y":-225},{"c":"2","x":102,"y":-229},{"c":"2","x":85,"y":-229},{"c":"2","x":170,"y":-179},{"c":"2","x":165,"y":-172},{"c":"2","x":30,"y":-170},{"c":"2","x":44,"y":-165},{"c":"2","x":95,"y":-136},
{"c":"4","x":93,"y":-212},{"c":"4","x":87,"y":-221},{"c":"4","x":93,"y":-227},{"c":"4","x":99,"y":-248},{"c":"4","x":157,"y":-174},{"c":"4","x":114,"y":-184},{"c":"9","x":33,"y":-239},
{"c":"9","x":-21,"y":-204},{"c":"9","x":-25,"y":-200},{"c":"9","x":15,"y":-197},{"c":"9","x":19,"y":-200},{"c":"9","x":27,"y":-199},{"c":"9","x":-5,"y":-197},{"c":"9","x":4,"y":-197},{"c":"9","x":34,"y":-169},{"c":"9","x":-61,"y":-181},{"c":"9","x":-48,"y":-182},{"c":"9","x":-31,"y":-181},{"c":"9","x":-10,"y":-181},
{"c":"4","x":-96,"y":-174},{"c":"4","x":-91,"y":-174},{"c":"4","x":-88,"y":-177},{"c":"4","x":-85,"y":-180},{"c":"4","x":-90,"y":-184},{"c":"4","x":-85,"y":-184},{"c":"4","x":-82,"y":-174},{"c":"4","x":-76,"y":-175},{"c":"4","x":-75,"y":-178},{"c":"4","x":-53,"y":-180},{"c":"4","x":-21,"y":-181},{"c":"4","x":-39,"y":-191},{"c":"4","x":1,"y":-160},{"c":"13","x":-43,"y":-175},
{"c":"6","x":-59,"y":-315},{"c":"6","x":-66,"y":-290},{"c":"6","x":-64,"y":-282},{"c":"6","x":-63,"y":-287},{"c":"6","x":-52,"y":-310},{"c":"6","x":20,"y":-270},{"c":"6","x":14,"y":-275},{"c":"6","x":5,"y":-280},{"c":"6","x":0,"y":-287},{"c":"6","x":-6,"y":-292},{"c":"6","x":-11,"y":-299},{"c":"6","x":-16,"y":-304},{"c":"6","x":-21,"y":-305},{"c":"6","x":-23,"y":-310},{"c":"6","x":-28,"y":-319},{"c":"6","x":-34,"y":-312},{"c":"6","x":-40,"y":-323},{"c":"6","x":-36,"y":-326},{"c":"6","x":-52,"y":-331},{"c":"6","x":-43,"y":-337},{"c":"6","x":-60,"y":-342},{"c":"6","x":-56,"y":-347},{"c":"6","x":-68,"y":-349},{"c":"6","x":-70,"y":-357},{"c":"6","x":-83,"y":-355},{"c":"6","x":-76,"y":-362},{"c":"6","x":-133,"y":-369},{"c":"6","x":-103,"y":-370},{"c":"6","x":-120,"y":-368},{"c":"6","x":-90,"y":-365},{"c":"6","x":-163,"y":-375},{"c":"6","x":-140,"y":-370},{"c":"6","x":10,"y":-260},{"c":"6","x":25,"y":-266},{"c":"6","x":29,"y":-269},{"c":"6","x":-105,"y":-387},{"c":"6","x":-98,"y":-389},{"c":"6","x":-76,"y":-389},{"c":"6","x":-126,"y":-407},{"c":"6","x":-110,"y":-402},{"c":"6","x":-140,"y":-394},{"c":"6","x":-155,"y":-389},
{"c":"7","x":-101,"y":-385},{"c":"7","x":-113,"y":-390},{"c":"7","x":-86,"y":-394},{"c":"7","x":-143,"y":-379},{"c":"7","x":-160,"y":-372},{"c":"7","x":-175,"y":-369},{"c":"7","x":-188,"y":-370},
{"c":"4","x":-57,"y":-296},{"c":"4","x":-18,"y":-304},{"c":"4","x":-22,"y":-314},{"c":"4","x":-30,"y":-318},{"c":"4","x":-37,"y":-331},{"c":"4","x":-51,"y":-341},{"c":"4","x":-47,"y":-352},{"c":"4","x":-53,"y":-353},{"c":"4","x":-58,"y":-345},{"c":"4","x":-87,"y":-358},{"c":"4","x":-94,"y":-367},{"c":"4","x":-90,"y":-366},{"c":"4","x":-113,"y":-376},{"c":"4","x":-144,"y":-371},{"c":"4","x":-1,"y":-283},{"c":"4","x":18,"y":-264},{"c":"0","x":-131,"y":-365},
{"c":"8","x":9,"y":-269},{"c":"8","x":6,"y":-275},{"c":"8","x":13,"y":-272},{"c":"8","x":25,"y":-266},
{"c":"5","x":548,"y":-27},{"c":"5","x":552,"y":-31},{"c":"5","x":545,"y":-31},{"c":"5","x":542,"y":-23},{"c":"5","x":535,"y":-29},{"c":"5","x":540,"y":-28},{"c":"5","x":488,"y":26},{"c":"5","x":494,"y":45},{"c":"5","x":484,"y":5},{"c":"5","x":480,"y":-19},{"c":"5","x":525,"y":-47},{"c":"5","x":520,"y":-47},{"c":"5","x":514,"y":-57},{"c":"5","x":509,"y":-59},{"c":"5","x":504,"y":-66},{"c":"5","x":549,"y":-5},{"c":"5","x":544,"y":-7},{"c":"5","x":537,"y":-22},{"c":"5","x":549,"y":-30},{"c":"5","x":545,"y":-34},{"c":"5","x":523,"y":-39},
{"c":"1","x":480,"y":-44},{"c":"4","x":488,"y":-50},{"c":"10","x":487,"y":-39},{"c":"10","x":489,"y":-37}]},
"encoding":{
"x":{"field":"x","type":"quantitative","scale":{"domain":[-496,600],"nice":false,"zero":false},"axis":{"values":[-378,-189,0,189,377,565],"grid":true,"gridColor":"#e6e6e6","gridWidth":2.4,"domain":false,"ticks":false,"labels":false,"title":"UMAP1","titleFontSize":29,"titleFont":"Liberation Sans","titleFontWeight":"normal","titleColor":"#000000","titlePadding":15}},
"y":{"field":"y","type":"quantitative","scale":{"domain":[-469,388],"nice":false,"zero":false},"axis":{"values":[-276,0,276],"grid":true,"gridColor":"#e6e6e6","gridWidth":2.4,"domain":false,"ticks":false,"labels":false,"title":"UMAP2","titleFontSize":29,"titleFont":"Liberation Sans","titleFontWeight":"normal","titleColor":"#000000","titlePadding":17}},
"color":{"field":"c","type":"nominal","scale":{"domain":["0","1","2","3","4","5","6","7","8","9","10","11","12","13","14"],"range":["#3E30FF","#C02525","#618A44","#EEE273","#365670","#A84F28","#4E9FD4","#661051","#59D457","#C97E99","#7B3216","#70647C","#2C3079","#EE0000","#0F7A36"]},"legend":{"orient":"none","legendX":1153,"legendY":104,"title":null,"symbolType":"circle","symbolSize":400,"symbolStrokeWidth":0,"symbolOpacity":1,"labelFontSize":22,"labelFont":"Liberation Sans","labelColor":"#000000","rowPadding":24.05,"labelOffset":26,"values":["0","1","2","3","4","5","6","7","8","9","10","11","12","13","14"]}}},
"layer":[
{"data":{"name":"big"},"mark":{"type":"point","shape":"circle","filled":true,"opacity":1,"size":1257}},
{"data":{"name":"mid"},"mark":{"type":"point","shape":"circle","filled":true,"opacity":1,"size":154}},
{"data":{"name":"small"},"mark":{"type":"point","shape":"circle","filled":true,"opacity":1,"size":50}},
{"data":{"name":"dots"},"mark":{"type":"point","shape":"circle","filled":true,"opacity":1,"size":12}}
]}
